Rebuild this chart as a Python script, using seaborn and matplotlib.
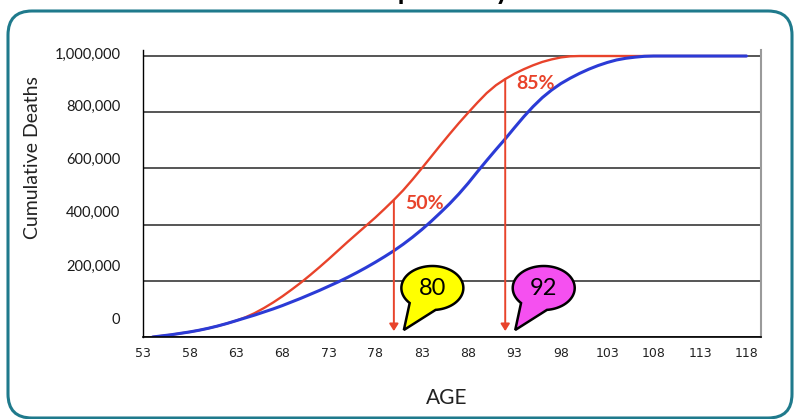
import numpy as np
import pandas as pd
import seaborn as sns
import matplotlib
matplotlib.use("Agg")
import matplotlib.pyplot as plt
from matplotlib import transforms
from matplotlib.patches import FancyBboxPatch, PathPatch
from matplotlib.path import Path
from matplotlib.ticker import MultipleLocator

# data (cumulative deaths, thousands)
ages = list(range(54, 119))
red_k = [0, 4, 8, 13, 18, 24, 31, 39, 48, 58,
         70, 85, 103, 123, 145, 169, 194, 221, 249, 278,
         308, 338, 367, 396, 425, 456, 488, 522, 560, 600,
         641, 682, 722, 761, 798, 834, 868, 896, 918, 937,
         953, 967, 979, 988, 995, 999] + [1000] * 19
blue_k = [0, 4, 8, 13, 18, 24, 31, 39, 48, 58,
          68, 78, 89, 100, 112, 125, 138, 152, 166, 181,
          196, 212, 229, 247, 266, 286, 307, 330, 355, 382,
          411, 442, 474, 509, 547, 588, 628, 667, 705, 745,
          784, 820, 852, 879, 902, 921, 938, 953, 966, 977,
          986, 992, 996, 999] + [1000] * 11

marker_ages = [80, 92]
marker_pcts = ["50%", "85%"]
bubble_labels = ["80", "92"]
bubble_colors = ["#ffff00", "#f550f0"]

x_ticks = list(range(53, 119, 5))
y_ticks = [0, 200000, 400000, 600000, 800000, 1000000]
y_label_shift = [19, 15, 13, 10, 6.5, 3]  # labels sit a bit above their gridlines

RED = "#e8432b"
BLUE = "#2b3bd6"

df = pd.DataFrame({
    "age": ages * 2,
    "deaths": [v * 1000 for v in red_k + blue_k],
    "series": ["red"] * len(ages) + ["blue"] * len(ages),
})

sns.set_style("white")
plt.rcParams["font.family"] = ["Lato", "DejaVu Sans"]

W, H, DPI = 798, 419, 100
fig = plt.figure(figsize=(W / DPI, H / DPI), dpi=DPI)
pxs = transforms.Affine2D().scale(1 / DPI) + fig.dpi_scale_trans  # pixel units

# rounded teal frame
frame = FancyBboxPatch((8, 1), 784, 407, boxstyle="round,pad=0,rounding_size=24",
                       transform=pxs, fc="white", ec="#1f7a8c", lw=2.2, zorder=-1)
fig.add_artist(frame)

# title, mostly cut off at the top of the picture (as in the source)
fig.text(412, 420.5, "Life Expectancy", transform=pxs, ha="center", va="baseline",
         fontsize=20, fontweight="bold", color="black")

ax = fig.add_axes([143.3 / W, (H - 337) / H, (760.7 - 143.3) / W, (337 - 50.4) / H])
ax.set_facecolor("none")

sns.lineplot(data=df, x="age", y="deaths", hue="series",
             palette={"red": RED, "blue": BLUE}, legend=False, ax=ax)
ax.lines[0].set_linewidth(1.7)
ax.lines[1].set_linewidth(2.2)

ax.set_xlim(53.43, 119.53)
ax.set_ylim(0, 1020000)
ax.set_xlabel("")
ax.set_ylabel("")

ax.set_yticks(y_ticks)
ax.set_yticklabels([f"{v:,}" for v in y_ticks])
ax.yaxis.grid(True, color="#555555", lw=1.4)
ax.set_axisbelow(True)
ax.tick_params(axis="y", direction="inout", length=5, width=0.8, pad=14,
               labelsize=10.5, labelcolor="#1a1a1a")
for lbl, dy in zip(ax.get_yticklabels(), y_label_shift):
    lbl.set_transform(lbl.get_transform() +
                      transforms.ScaledTranslation(0, dy / DPI, fig.dpi_scale_trans))

ax.set_xticks(x_ticks)
ax.xaxis.set_minor_locator(MultipleLocator(1))
ax.tick_params(axis="x", which="both", direction="out", length=4, width=0.8,
               color="#333333", pad=3)
for lbl in ax.get_xticklabels():
    lbl.set_family(["Liberation Sans Narrow", "DejaVu Sans"])
    lbl.set_fontsize(9)
    lbl.set_color("#222222")

ax.spines["top"].set_visible(False)
ax.spines["left"].set_color("black")
ax.spines["left"].set_linewidth(1.0)
ax.spines["bottom"].set_color("black")
ax.spines["bottom"].set_linewidth(1.2)
ax.spines["right"].set_color("#9a9a9a")
ax.spines["right"].set_linewidth(1.5)

fig.text(33, H - 158, "Cumulative Deaths", transform=pxs, rotation=90,
         ha="center", va="center", fontsize=14, color="#222222")
fig.text(447, H - 398, "AGE", transform=pxs, ha="center", va="center",
         fontsize=15, color="#222222")

# arrows down from the red curve + percentage labels
for age, pct in zip(marker_ages, marker_pcts):
    top = np.interp(age, ages, red_k) * 1000
    ax.annotate("", xy=(age, 21000), xytext=(age, top),
                arrowprops=dict(arrowstyle="-|>,head_length=0.35,head_width=0.22",
                                mutation_scale=12, color=RED, lw=1.4,
                                shrinkA=0, shrinkB=0))
    ax.annotate(pct, xy=(age, top), xytext=(11, -4), textcoords="offset pixels",
                ha="left", va="center", color=RED, fontsize=14, fontweight="bold")

# speech bubbles
cx, cy, a, b = 38.5, 49, 31, 22
theta = np.radians(np.linspace(276, 583, 80))
verts = [(cx + a * np.cos(t), cy + b * np.sin(t)) for t in theta]
verts += [(10, 7), verts[0]]
codes = [Path.MOVETO] + [Path.LINETO] * (len(verts) - 2) + [Path.CLOSEPOLY]
bubble_path = Path(verts, codes)

for age, txt, col in zip(marker_ages, bubble_labels, bubble_colors):
    btrans = pxs + transforms.ScaledTranslation(age, 0, ax.transData)
    fig.add_artist(PathPatch(bubble_path, transform=btrans, fc=col, ec="black",
                             lw=1.8, zorder=5))
    fig.text(cx, cy, txt, transform=btrans, ha="center", va="center",
             fontsize=17, color="black", zorder=6)

fig.savefig("out.png", dpi=DPI)
